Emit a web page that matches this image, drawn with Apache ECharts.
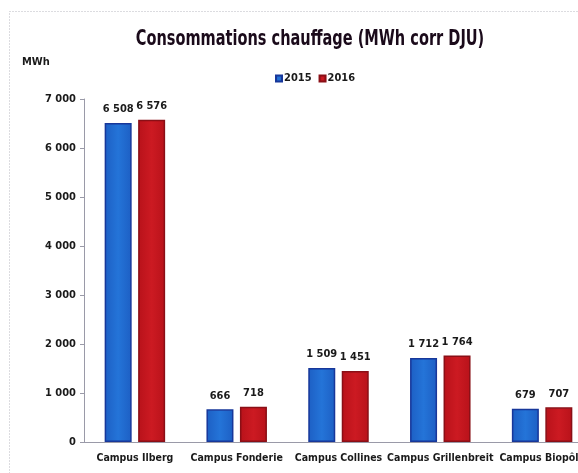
<!DOCTYPE html>
<html>
<head>
<meta charset="utf-8">
<script src="https://cdn.jsdelivr.net/npm/echarts@6/dist/echarts.min.js"></script>
<style>
    html, body { margin: 0; padding: 0; background: #fff; overflow: hidden; }
    /* le graphique d'origine est coupé à droite : conteneur plus large que la fenêtre */
    #chart { width: 630px; height: 473px; }
</style>
</head>
<body>
<div id="chart"></div>
<script>
// données
const campus = ['Campus Ilberg', 'Campus Fonderie', 'Campus Collines', 'Campus Grillenbreit', 'Campus Biopôle'];
const conso2015 = [6508, 666, 1509, 1712, 679];
const conso2016 = [6576, 718, 1451, 1764, 707];
const yTicks = [0, 1000, 2000, 3000, 4000, 5000, 6000, 7000];

const FONT = '"Liberation Sans Narrow", "DejaVu Sans Condensed", Roboto, sans-serif';

// séparateur de milliers avec espace : 6508 -> "6 508"
function fmt(v) {
    return String(v).replace(/\B(?=(\d{3})+(?!\d))/g, ' ');
}

const chart = echarts.init(document.getElementById('chart'));

const labelStyle = {
    show: true,
    position: 'top',
    distance: 8,
    fontFamily: FONT,
    fontWeight: 'bold',
    fontSize: 11,
    color: '#1a1a1a',
    formatter: (p) => fmt(p.value),
};

const option = {
    backgroundColor: '#fff',
    animation: false,
    legend: {
        top: 68,
        left: 270,
        icon: 'rect',
        itemWidth: 6,
        itemHeight: 6,
        itemGap: 7,
        textStyle: {
            fontFamily: FONT,
            fontWeight: 'bold',
            fontSize: 11,
            color: '#1a1a1a',
            padding: [0, 0, 0, -3],
        },
        data: ['2015', '2016'],
    },
    graphic: [
        {
            type: 'rect',
            shape: { x: 9.5, y: 11.5, width: 640, height: 500 },
            style: { fill: 'none', stroke: '#b8b8c0', lineWidth: 1, lineDash: [1, 2] },
            silent: true,
        },
        {
            // titre, resserré horizontalement pour imiter la police étroite
            type: 'text',
            x: 310,
            y: 40,
            scaleX: 0.77,
            style: {
                text: 'Consommations chauffage (MWh corr DJU)',
                align: 'center',
                verticalAlign: 'middle',
                fontFamily: FONT,
                fontWeight: 'bold',
                fontSize: 21,
                fill: '#1a0a1a',
            },
        },
        {
            type: 'text',
            left: 22,
            top: 57,
            style: {
                text: 'MWh',
                fontFamily: FONT,
                fontWeight: 'bold',
                fontSize: 11,
                fill: '#1a1a1a',
            },
        },
    ],
    grid: {
        left: 84,
        width: 509,
        top: 99,
        bottom: 31,
    },
    xAxis: {
        type: 'category',
        data: campus,
        axisLine: { lineStyle: { color: '#9a9aa8', width: 1 } },
        axisTick: { show: false },
        axisLabel: {
            interval: 0,
            margin: 11,
            fontFamily: FONT,
            fontWeight: 'bold',
            fontSize: 10.5,
            color: '#1a1a1a',
        },
    },
    yAxis: {
        type: 'value',
        min: yTicks[0],
        max: yTicks[yTicks.length - 1],
        interval: 1000,
        splitLine: { show: false },
        axisLine: { show: true, lineStyle: { color: '#9a9aa8', width: 1 } },
        axisTick: { show: true, length: 4, lineStyle: { color: '#9a9aa8' } },
        axisLabel: {
            margin: 8,
            fontFamily: FONT,
            fontWeight: 'bold',
            fontSize: 11,
            color: '#1a1a1a',
            formatter: (v) => fmt(v),
        },
    },
    series: [
        {
            name: '2015',
            type: 'bar',
            data: conso2015,
            barWidth: 27,
            barGap: '24%',
            itemStyle: {
                color: new echarts.graphic.LinearGradient(0, 0, 1, 0, [
                    { offset: 0, color: '#1d5fc4' },
                    { offset: 0.5, color: '#2474d8' },
                    { offset: 1, color: '#1d5fc4' },
                ]),
                borderColor: '#17379a',
                borderWidth: 1.5,
            },
            label: labelStyle,
        },
        {
            name: '2016',
            type: 'bar',
            data: conso2016,
            barWidth: 27,
            itemStyle: {
                color: new echarts.graphic.LinearGradient(0, 0, 1, 0, [
                    { offset: 0, color: '#b8121a' },
                    { offset: 0.5, color: '#cc1a22' },
                    { offset: 1, color: '#b8121a' },
                ]),
                borderColor: '#8a0f16',
                borderWidth: 1.5,
            },
            label: labelStyle,
        },
    ],
};

chart.setOption(option);
</script>
</body>
</html>
